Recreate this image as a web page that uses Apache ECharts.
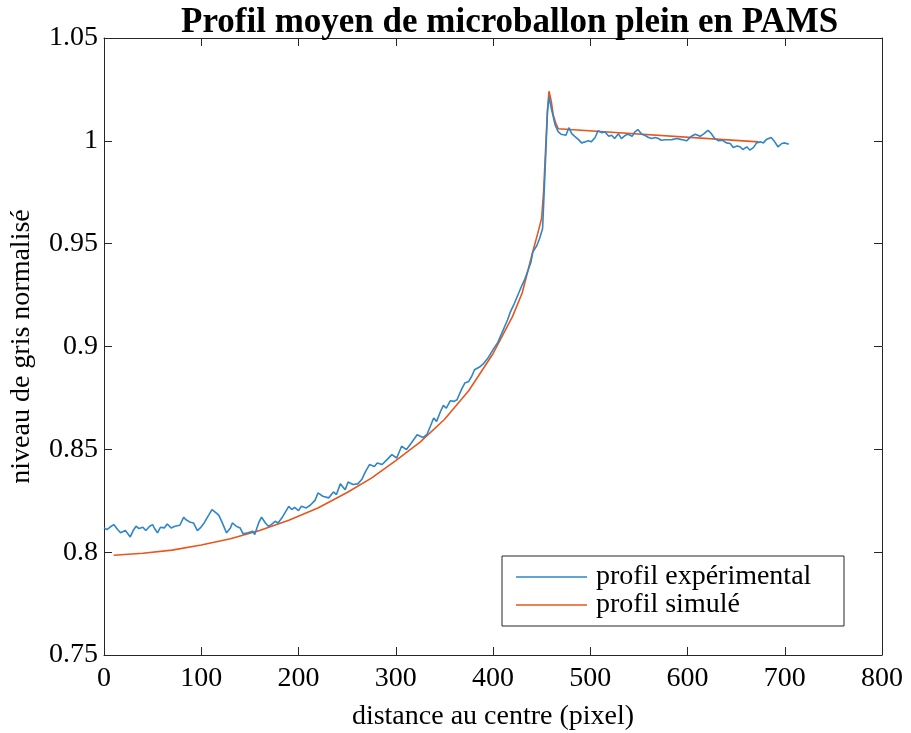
<!DOCTYPE html>
<html>
<head>
<meta charset="utf-8">
<script src="https://cdn.jsdelivr.net/npm/echarts@6/dist/echarts.min.js"></script>
<style>
  html, body { margin: 0; padding: 0; background: #fff; }
  #chart { width: 911px; height: 733px; }
</style>
</head>
<body>
<div id="chart"></div>
<script>
// Profil expérimental : distance (pixel) et niveau de gris normalisé
var expX = [0, 3, 6, 10, 14, 17, 22, 24, 27, 30, 33, 36, 40, 43, 47, 50, 52, 55, 58, 62,
  65, 69, 73, 78, 82, 84, 88, 92, 96, 99, 103, 106, 111, 114, 118, 121, 126, 130, 132, 136,
  140, 143, 148, 153, 155, 159, 162, 166, 169, 172, 176, 179, 183, 186, 190, 193, 196, 200, 203, 208,
  212, 217, 220, 225, 231, 236, 239, 243, 248, 251, 256, 261, 265, 269, 273, 278, 281, 286, 291, 296,
  301, 306, 311, 316, 322, 328, 332, 336, 339, 342, 346, 349, 352, 356, 360, 363, 368, 371, 375, 378,
  381, 387, 390, 395, 400, 405, 410, 415, 418, 422, 426, 430, 433, 436, 439, 441, 445, 448, 451, 453.5,
  456, 457.6, 460, 464, 467, 470, 472, 475, 478, 481, 484, 488, 491, 495, 498, 501, 505, 508, 512, 515,
  519, 522, 525, 529, 532, 536, 539, 543, 546, 549, 553, 556, 560, 563, 567, 570, 573, 577, 584, 589,
  594, 599, 604, 608, 613, 617, 621, 624, 628, 632, 636, 640, 644, 647, 651, 654, 657, 661, 664, 668,
  671, 675, 678, 681, 686, 689, 693, 697, 700, 704];
var expY = [0.8118, 0.8110, 0.8121, 0.8134, 0.8110, 0.8094, 0.8105, 0.8110, 0.8074, 0.8105,
  0.8126, 0.8115, 0.8121, 0.8105, 0.8126, 0.8134, 0.8115, 0.8094, 0.8121, 0.8118,
  0.8137, 0.8118, 0.8126, 0.8131, 0.8170, 0.8159, 0.8147, 0.8142, 0.8105, 0.8118,
  0.8142, 0.8167, 0.8207, 0.8196, 0.8180, 0.8150, 0.8094, 0.8118, 0.8142, 0.8126,
  0.8118, 0.8089, 0.8094, 0.8102, 0.8086, 0.8142, 0.8170, 0.8142, 0.8126, 0.8134,
  0.8150, 0.8142, 0.8167, 0.8191, 0.8223, 0.8207, 0.8218, 0.8202, 0.8223, 0.8215,
  0.8228, 0.8252, 0.8288, 0.8272, 0.8264, 0.8293, 0.8280, 0.8332, 0.8304, 0.8341,
  0.8329, 0.8332, 0.8353, 0.8393, 0.8426, 0.8417, 0.8434, 0.8426, 0.8450, 0.8474,
  0.8458, 0.8515, 0.8499, 0.8531, 0.8571, 0.8558, 0.8571, 0.8617, 0.8652, 0.8636,
  0.8684, 0.8714, 0.8700, 0.8736, 0.8733, 0.8741, 0.8795, 0.8822, 0.8830, 0.8854,
  0.8887, 0.8903, 0.8915, 0.8945, 0.8985, 0.9020, 0.9075, 0.9130, 0.9170, 0.9210,
  0.9255, 0.9300, 0.9330, 0.9370, 0.9410, 0.9460, 0.9490, 0.9526, 0.9574, 0.9850,
  1.0140, 1.0214, 1.0157, 1.0076, 1.0045, 1.0032, 1.0038, 1.0027, 1.0064, 1.0035,
  1.0022, 1.0006, 0.9990, 0.9995, 1.0000, 0.9995, 1.0016, 1.0049, 1.0039, 1.0044,
  1.0022, 1.0027, 1.0011, 1.0035, 1.0011, 1.0027, 1.0032, 1.0022, 1.0044, 1.0055,
  1.0032, 1.0027, 1.0016, 1.0011, 1.0016, 1.0011, 1.0003, 1.0005, 1.0006, 1.0011,
  1.0006, 1.0000, 1.0022, 1.0032, 1.0022, 1.0035, 1.0051, 1.0038, 1.0011, 1.0000,
  1.0003, 0.9990, 0.9987, 0.9968, 0.9975, 0.9971, 0.9958, 0.9971, 0.9955, 0.9968,
  0.9990, 0.9995, 0.9990, 1.0006, 1.0016, 1.0000, 0.9971, 0.9987, 0.9990, 0.9984];

// Profil simulé
var simX = [10, 40, 70, 100, 130, 160, 190, 220, 250, 275, 300, 325, 350, 375, 400, 420,
  430, 440, 446, 450, 452, 454, 456, 457.6, 460, 462, 465, 467, 673];
var simY = [0.7985, 0.7995, 0.8010, 0.8035, 0.8065, 0.8105, 0.8155, 0.8215, 0.8290, 0.8360,
  0.8445, 0.8535, 0.8645, 0.8785, 0.8965, 0.9145, 0.9260, 0.9445, 0.9550, 0.9623,
  0.9750, 0.9950, 1.0150, 1.0241, 1.0190, 1.0124, 1.0080, 1.0059, 0.9995];

var xTicks = [0, 100, 200, 300, 400, 500, 600, 700, 800];
var yTicks = [0.75, 0.8, 0.85, 0.9, 0.95, 1, 1.05];

var seriesNames = ['profil expérimental', 'profil simulé'];
var chartTitle = 'Profil moyen de microballon plein en PAMS';
var xName = 'distance au centre (pixel)';
var yName = 'niveau de gris normalisé';

function pairs(xs, ys) {
  return xs.map(function (x, i) { return [x, ys[i]]; });
}

var FONT = '"Liberation Serif", "Times New Roman", serif';
var AX = '#262626';
var BLUE = '#2f86c8';
var ORANGE = '#e8561c';

var chart = echarts.init(document.getElementById('chart'), null, { renderer: 'canvas' });

var axisCommon = {
  axisLine: { show: true, onZero: false, lineStyle: { color: AX, width: 1 } },
  axisTick: { show: true, inside: true, length: 8, lineStyle: { color: AX, width: 1 } },
  splitLine: { show: false }
};

chart.setOption({
  backgroundColor: '#ffffff',
  animation: false,
  title: {
    text: chartTitle,
    left: 176,
    top: 0,
    textStyle: { fontFamily: FONT, fontWeight: 'bold', fontSize: 35, color: '#000' }
  },
  grid: { left: 104, right: 29, top: 38, bottom: 78, containLabel: false, outerBoundsMode: 'none' },
  legend: {
    orient: 'vertical',
    left: 502,
    top: 556,
    padding: [7, 0, 7, 14],
    itemGap: 0,
    itemWidth: 71,
    itemHeight: 1.5,
    icon: 'rect',
    backgroundColor: '#ffffff',
    borderColor: AX,
    borderWidth: 1,
    borderRadius: 0,
    data: [
      { name: seriesNames[0], itemStyle: { color: BLUE } },
      { name: seriesNames[1], itemStyle: { color: ORANGE } }
    ],
    textStyle: {
      fontFamily: FONT, fontSize: 28, color: '#000', lineHeight: 27,
      width: 248, padding: [0, 0, 0, 4]
    }
  },
  xAxis: [
    Object.assign({
      type: 'value', min: 0, max: 800, interval: 100, position: 'bottom',
      name: xName, nameLocation: 'middle', nameGap: 48,
      nameTextStyle: { fontFamily: FONT, fontSize: 28, color: '#000' },
      axisLabel: {
        fontFamily: FONT, fontSize: 28, color: '#000', margin: 10,
        formatter: function (v) { return xTicks.indexOf(v) >= 0 ? String(v) : ''; }
      }
    }, axisCommon),
    Object.assign({
      type: 'value', min: 0, max: 800, interval: 100, position: 'top',
      axisLabel: { show: false }
    }, axisCommon)
  ],
  yAxis: [
    Object.assign({
      type: 'value', min: 0.75, max: 1.05, interval: 0.05, position: 'left',
      name: yName, nameLocation: 'middle', nameGap: 68, nameRotate: 90,
      nameTextStyle: { fontFamily: FONT, fontSize: 28, color: '#000' },
      axisLabel: {
        fontFamily: FONT, fontSize: 28, color: '#000', margin: 6,
        formatter: function (v) {
          var r = Math.round(v * 100) / 100;
          for (var i = 0; i < yTicks.length; i++) {
            if (Math.abs(yTicks[i] - r) < 1e-9) return String(yTicks[i]);
          }
          return '';
        }
      }
    }, axisCommon),
    Object.assign({
      type: 'value', min: 0.75, max: 1.05, interval: 0.05, position: 'right',
      axisLabel: { show: false }
    }, axisCommon)
  ],
  series: [
    {
      name: seriesNames[0], type: 'line', xAxisIndex: 0, yAxisIndex: 0,
      data: pairs(expX, expY), symbol: 'none', smooth: false,
      lineStyle: { color: BLUE, width: 1.6 }, itemStyle: { color: BLUE }, z: 3
    },
    {
      name: seriesNames[1], type: 'line', xAxisIndex: 0, yAxisIndex: 0,
      data: pairs(simX, simY), symbol: 'none', smooth: false,
      lineStyle: { color: ORANGE, width: 1.6 }, itemStyle: { color: ORANGE }, z: 2
    }
  ]
});
</script>
</body>
</html>
